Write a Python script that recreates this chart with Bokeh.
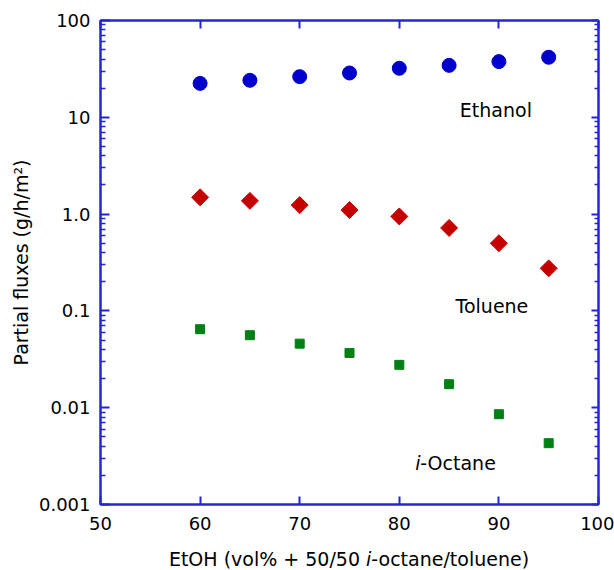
import numpy as np
from bokeh.plotting import figure
from bokeh.models import LogAxis, LinearAxis, FixedTicker, Label, Range1d, Div
from bokeh.layouts import column
from bokeh.embed import file_html
from bokeh.resources import INLINE

# ---- data ----
etoh = [60, 65, 70, 75, 80, 85, 90, 95]
ethanol = [22.4, 24.1, 26.3, 28.7, 32.1, 34.4, 37.6, 41.7]
toluene = [1.49, 1.37, 1.24, 1.10, 0.946, 0.72, 0.50, 0.275]
octane = [0.0647, 0.0561, 0.0459, 0.0368, 0.0277, 0.0175, 0.00857, 0.0043]

x_ticks = [50, 60, 70, 80, 90, 100]
y_ticks = [0.001, 0.01, 0.1, 1, 10, 100]
y_tick_labels = ["0.001", "0.01", "0.1", "1.0", "10", "100"]
y_minor = [k * 10.0 ** e for e in range(-3, 2) for k in range(2, 10)]

y_title = "Partial fluxes (g/h/m\u00b2)"
x_title_html = "EtOH (vol% + 50/50 <i>i</i>-octane/toluene)"

FONT = "DejaVu Sans"
AXIS_BLUE = "#2424dc"

p = figure(width=614, height=540,
           x_range=Range1d(50, 100), y_range=Range1d(0.001, 100),
           y_axis_type="log", output_backend="svg", toolbar_location=None,
           min_border_left=100, min_border_right=16,
           min_border_top=20, min_border_bottom=36)
p.grid.visible = False
p.outline_line_color = AXIS_BLUE
p.outline_line_width = 2
p.background_fill_color = "white"
p.border_fill_color = "white"

xt = FixedTicker(ticks=x_ticks, minor_ticks=[])
yt = FixedTicker(ticks=y_ticks, minor_ticks=y_minor)


def style(ax, major_in, minor_in):
    ax.axis_line_color = AXIS_BLUE
    ax.axis_line_width = 2
    ax.major_tick_line_color = AXIS_BLUE
    ax.major_tick_line_width = 2
    ax.minor_tick_line_color = AXIS_BLUE
    ax.minor_tick_line_width = 1.5
    ax.major_tick_in = major_in
    ax.major_tick_out = 0
    ax.minor_tick_in = minor_in
    ax.minor_tick_out = 0
    ax.major_label_text_font = FONT
    ax.major_label_text_font_size = "18px"
    ax.major_label_text_color = "black"


# left axis
ly = p.yaxis[0]
ly.ticker = yt
style(ly, 9, 5)
ly.major_label_overrides = {t: s for t, s in zip(y_ticks, y_tick_labels)}
ly.major_label_standoff = 10
ly.axis_label = y_title
ly.axis_label_text_font = FONT
ly.axis_label_text_font_size = "19px"
ly.axis_label_text_font_style = "normal"
ly.axis_label_text_color = "black"
ly.axis_label_standoff = 4

# bottom axis
bx = p.xaxis[0]
bx.ticker = xt
style(bx, 8, 0)
bx.minor_tick_line_color = None
bx.major_label_standoff = 12

# mirrored axes (ticks only)
ry = LogAxis(ticker=yt)
style(ry, 7, 4)
ry.major_label_overrides = {t: "" for t in y_ticks}
ry.major_label_text_font_size = "1px"
ry.major_label_standoff = 0
p.add_layout(ry, "right")

tx = LinearAxis(ticker=xt)
style(tx, 8, 0)
tx.minor_tick_line_color = None
tx.major_label_overrides = {t: "" for t in x_ticks}
tx.major_label_text_font_size = "1px"
tx.major_label_standoff = 0
p.add_layout(tx, "above")

# ---- data marks ----
p.scatter(etoh, ethanol, marker="circle", size=14,
          fill_color="#0000cc", line_color="#0000cc")
p.scatter(etoh, toluene, marker="square", size=12, angle=np.pi / 4,
          fill_color="#c40000", line_color="#c40000")
p.scatter(etoh, octane, marker="square", size=9,
          fill_color="#008014", line_color="#008014")

# ---- series annotations ----
def lab(text, x, y, align="left", style_="normal", xoff=0):
    p.add_layout(Label(x=x, y=y, text=text, x_offset=xoff,
                       text_font=FONT, text_font_size="19px",
                       text_font_style=style_, text_color="black",
                       text_align=align, text_baseline="alphabetic"))

lab("Ethanol", 89.7, 11.8, align="center")
lab("Toluene", 89.3, 0.113, align="center")
lab("i", 81.6, 0.00268, style_="italic")
lab("-Octane", 81.6, 0.00268, xoff=5)

# ---- x axis title (mixed italic) as HTML text below the figure ----
xtitle = Div(text=x_title_html, width=514, height=22, margin=(8, 0, 0, 92),
             styles={"font-family": FONT, "font-size": "19px",
                     "text-align": "center", "color": "black",
                     "line-height": "22px"})

layout = column(p, xtitle, spacing=0)

open("out.html", "w").write(file_html(layout, INLINE))
